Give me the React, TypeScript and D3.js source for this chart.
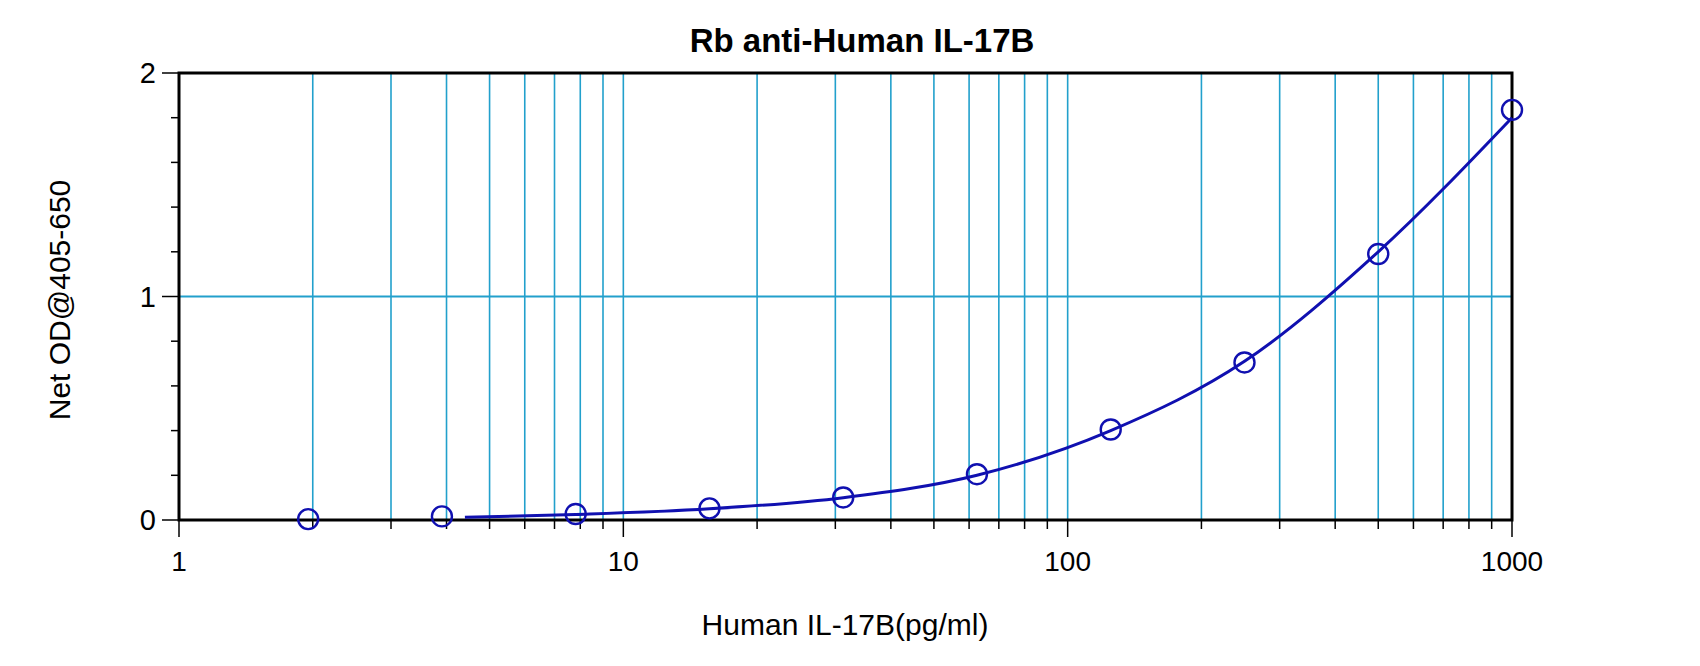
import React from "react";
import * as d3 from "d3";

const title = "Rb anti-Human IL-17B";
const xLabel = "Human IL-17B(pg/ml)";
const yLabel = "Net OD@405-650";

const pointX = [1.953, 3.906, 7.8125, 15.625, 31.25, 62.5, 125, 250, 500, 1000];
const pointY = [0.004, 0.016, 0.027, 0.052, 0.101, 0.205, 0.405, 0.705, 1.19, 1.835];

const curveX = [4.4, 7.8125, 15.625, 31.25, 62.5, 125, 250, 500, 1000];
const curveY = [0.012, 0.025, 0.05, 0.1, 0.2, 0.4, 0.71, 1.2, 1.8];

const xMajorTicks = [1, 10, 100, 1000];
const xTickLabels = ["1", "10", "100", "1000"];
const yMajorTicks = [0, 1, 2];
const yTickLabels = ["0", "1", "2"];
const yMinorTicks = [0.2, 0.4, 0.6, 0.8, 1.2, 1.4, 1.6, 1.8];
const yGridLines = [1];

const W = 1700;
const H = 666;
const left = 179;
const right = 1512;
const top = 73;
const bottom = 520;

const FONT = "'Liberation Sans', Arial, sans-serif";
const GRID = "#22a0cc";
const BLUE = "#1010b0";

export default function App() {
  const x = d3.scaleLog().domain([1, 1000]).range([left, right]);
  const y = d3.scaleLinear().domain([0, 2]).range([bottom, top]);

  const xMinor: number[] = [];
  for (const dec of [1, 10, 100]) {
    for (let k = 2; k <= 9; k++) xMinor.push(dec * k);
  }
  const xGrid = [...xMinor, 10, 100];

  const line = d3
    .line<number>()
    .x((_, i) => x(curveX[i]))
    .y((d) => y(d))
    .curve(d3.curveMonotoneX);

  return (
    <svg
      width={W}
      height={H}
      style={{ position: "absolute", left: 0, top: 0, background: "#fff" }}
    >
      <rect x={0} y={0} width={W} height={H} fill="#fff" />
      {xGrid.map((v) => (
        <line key={"gx" + v} x1={x(v)} x2={x(v)} y1={top} y2={bottom} stroke={GRID} strokeWidth={1.6} />
      ))}
      {yGridLines.map((v) => (
        <line key={"gy" + v} x1={left} x2={right} y1={y(v)} y2={y(v)} stroke={GRID} strokeWidth={1.8} />
      ))}
      {xMajorTicks.map((v) => (
        <line key={"xt" + v} x1={x(v)} x2={x(v)} y1={bottom} y2={bottom + 17} stroke="#000" strokeWidth={1.5} />
      ))}
      {xMinor.map((v) => (
        <line key={"xm" + v} x1={x(v)} x2={x(v)} y1={bottom} y2={bottom + 9} stroke="#000" strokeWidth={1.5} />
      ))}
      {yMajorTicks.map((v) => (
        <line key={"yt" + v} x1={left - 17} x2={left} y1={y(v)} y2={y(v)} stroke="#000" strokeWidth={1.5} />
      ))}
      {yMinorTicks.map((v) => (
        <line key={"ym" + v} x1={left - 8} x2={left} y1={y(v)} y2={y(v)} stroke="#000" strokeWidth={1.5} />
      ))}
      <rect x={left} y={top} width={right - left} height={bottom - top} fill="none" stroke="#000" strokeWidth={3} />
      <path d={line(curveY) || ""} fill="none" stroke={BLUE} strokeWidth={3} />
      {pointX.map((v, i) => (
        <circle key={"p" + i} cx={x(v)} cy={y(pointY[i])} r={10} fill="none" stroke={BLUE} strokeWidth={2.4} />
      ))}
      {xMajorTicks.map((v, i) => (
        <text key={"xl" + v} x={x(v)} y={571} textAnchor="middle" fontFamily={FONT} fontSize={28} fill="#000">
          {xTickLabels[i]}
        </text>
      ))}
      {yMajorTicks.map((v, i) => (
        <text key={"yl" + v} x={156} y={y(v) + 10} textAnchor="end" fontFamily={FONT} fontSize={29} fill="#000">
          {yTickLabels[i]}
        </text>
      ))}
      <text x={862} y={52} textAnchor="middle" fontFamily={FONT} fontSize={33} fontWeight="bold" fill="#000">
        {title}
      </text>
      <text x={845} y={635} textAnchor="middle" fontFamily={FONT} fontSize={30} fill="#000">
        {xLabel}
      </text>
      <text
        transform={`translate(70, 300) rotate(-90)`}
        textAnchor="middle"
        fontFamily={FONT}
        fontSize={30}
        fill="#000"
      >
        {yLabel}
      </text>
    </svg>
  );
}
